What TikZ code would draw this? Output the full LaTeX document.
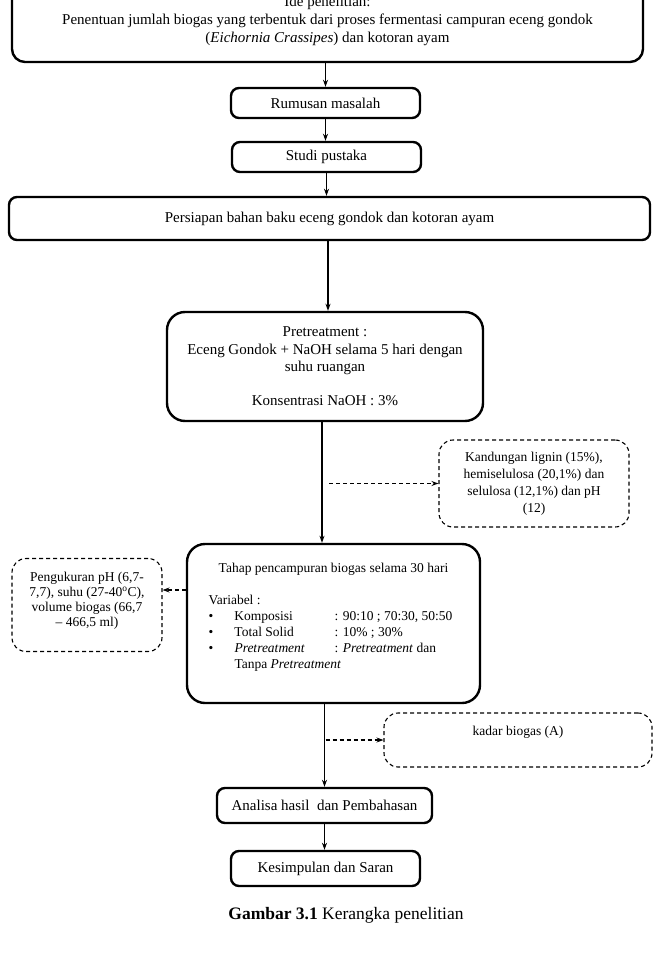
\documentclass[tikz,border=0pt]{standalone}
\usepackage{fontspec}
\setmainfont{Liberation Serif}
\usetikzlibrary{arrows.meta,calc}
\tikzset{
  mainbox/.style={draw, line width=2.4pt, rounded corners=8pt, align=center, inner sep=0pt,
    font=\fontsize{15}{18}\selectfont},
  bigbox/.style={mainbox, rounded corners=18pt},
  dbox/.style={draw, line width=1.1pt, dash pattern=on 4pt off 3pt, rounded corners=14pt,
    align=center, inner sep=0pt},
  arr/.style={line width=1.1pt, -{Stealth[length=7pt,width=5pt]}},
  darr/.style={line width=1.1pt, dash pattern=on 4pt off 3pt, -{Stealth[length=7pt,width=5pt]}},
}
\begin{document}
\begin{tikzpicture}[x=1pt,y=-1pt]
\useasboundingbox (0,0) rectangle (654,955);

\node[mainbox, rounded corners=13pt, minimum width=631pt, minimum height=82pt] (ide) at (327.5,21)
  {Ide penelitian:\\Penentuan jumlah biogas yang terbentuk dari proses fermentasi campuran eceng gondok\\(\textit{Eichornia Crassipes}) dan kotoran ayam};

\node[mainbox, minimum width=189pt, minimum height=30pt] (rum) at (325.5,103) {Rumusan masalah};
\node[mainbox, minimum width=189pt, minimum height=30pt] (studi) at (326.5,157) {Studi pustaka};
\node[mainbox, minimum width=641pt, minimum height=43pt] (pers) at (329.5,218.5)
  {Persiapan bahan baku eceng gondok dan kotoran ayam};

\node[bigbox, minimum width=316pt, minimum height=109pt, font=\fontsize{15}{17.3}\selectfont] (pre) at (325,366.5)
  {Pretreatment :\\Eceng Gondok + NaOH selama 5 hari dengan\\suhu ruangan\\[17.3pt]Konsentrasi NaOH : 3\%};

\node[dbox, minimum width=190pt, minimum height=87pt, font=\fontsize{13.5}{17}\selectfont] (kand) at (534,483.5)
  {Kandungan lignin (15\%),\\hemiselulosa (20,1\%) dan\\selulosa (12,1\%) dan pH\\(12)};

\node[bigbox, minimum width=293pt, minimum height=159pt, align=left,
  font=\fontsize{13.5}{16}\selectfont] (tahap) at (333.5,623.5)
  {\makebox[250pt][c]{Tahap pencampuran biogas selama 30 hari}\\
   \mbox{}\\
   Variabel :\\
   \makebox[26pt][l]{\textbullet}\makebox[100pt][l]{Komposisi}: 90:10 ; 70:30, 50:50\\
   \makebox[26pt][l]{\textbullet}\makebox[100pt][l]{Total Solid}: 10\% ; 30\%\\
   \makebox[26pt][l]{\textbullet}\makebox[100pt][l]{\textit{Pretreatment}}: \textit{Pretreatment} dan\\
   \hspace*{26pt}Tanpa \textit{Pretreatment}\\
   \mbox{}};

\node[dbox, minimum width=150pt, minimum height=93pt, font=\fontsize{13.5}{15.2}\selectfont] (peng) at (87,605)
  {Pengukuran pH (6,7-\\7,7), suhu (27-40\textsuperscript{o}C),\\volume biogas (66,7\\-- 466,5 ml)\\[-4pt]\mbox{}};

\node[dbox, minimum width=268pt, minimum height=54pt, font=\fontsize{13.5}{18}\selectfont] (kadar) at (518,740)
  {kadar biogas (A)\\\mbox{}};

\node[mainbox, minimum width=215pt, minimum height=35pt] (anal) at (324.5,805.5) {Analisa hasil\ \ dan Pembahasan};
\node[mainbox, minimum width=189pt, minimum height=35pt] (kes) at (325.5,868.5) {Kesimpulan dan Saran};

\node[font=\fontsize{17.5}{20}\selectfont] (cap) at (346,915) {\textbf{Gambar 3.1} Kerangka penelitian};

% connectors
\draw[arr] (ide.south -| rum.north) -- (rum.north);
\draw[arr] (rum.south) -- (rum.south |- studi.north);
\draw[arr] (studi.south) -- (studi.south |- pers.north);
\draw[arr] ([xshift=3pt]pre.north |- pers.south) -- ([xshift=3pt]pre.north);
\draw[arr] ([xshift=-3pt]pre.south) -- ([xshift=-3pt]pre.south |- tahap.north);
\coordinate (kstart) at ([xshift=4pt]pre.south |- kand.west);
\draw[darr] (kstart) -- (kand.west);
\coordinate (pend) at ([yshift=15pt]peng.east);
\draw[darr] (tahap.west |- pend) -- (pend);
\draw[arr] (tahap.south -| anal.north) -- (anal.north);
\coordinate (kdstart) at ([xshift=1pt]anal.north |- kadar.west);
\draw[darr] (kdstart) -- (kadar.west);
\draw[arr] (anal.south) -- (anal.south |- kes.north);
\end{tikzpicture}
\end{document}
